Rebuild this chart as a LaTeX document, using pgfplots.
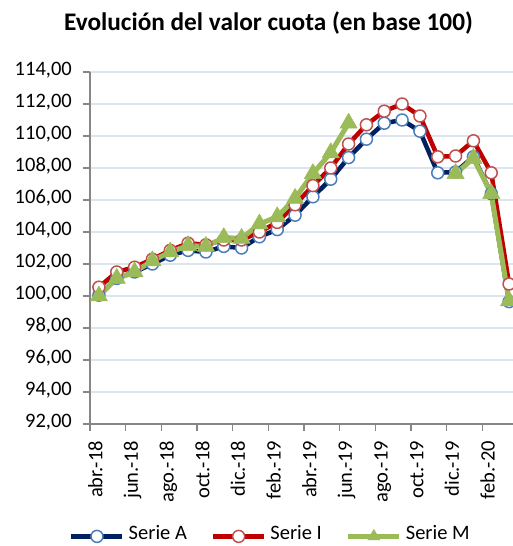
\documentclass[border=0pt]{standalone}
\usepackage{fontspec}
\setmainfont{Carlito}
\usepackage{pgfplots}
\usepackage{pgfplotstable}
\pgfplotsset{compat=1.18}
\definecolor{navyA}{RGB}{0,32,96}
\definecolor{blueedge}{RGB}{74,126,187}
\definecolor{redI}{RGB}{192,0,0}
\definecolor{rededge}{RGB}{192,80,77}
\definecolor{greenM}{RGB}{155,187,89}
\definecolor{gridc}{RGB}{220,228,240}
\definecolor{axisc}{RGB}{134,134,134}

\pgfplotstableread{
i A I M
0 100.05 100.55 100.00
1 101.10 101.50 101.10
2 101.50 101.80 101.50
3 102.00 102.30 102.20
4 102.55 102.85 102.75
5 102.85 103.30 103.15
6 102.75 103.20 103.10
7 103.10 103.50 103.65
8 103.00 103.50 103.60
9 103.70 104.00 104.50
10 104.15 104.60 104.95
11 105.05 105.70 106.10
12 106.20 106.90 107.65
13 107.30 108.00 108.95
14 108.65 109.50 110.80
15 109.80 110.70 nan
16 110.80 111.55 nan
17 111.00 112.00 nan
18 110.30 111.25 nan
19 107.70 108.70 nan
20 107.75 108.75 107.65
21 108.70 109.70 108.60
22 106.40 107.70 106.40
23 99.65 100.75 99.70
}\datatable

\begin{document}
\begin{tikzpicture}
\useasboundingbox (0bp,0bp) rectangle (513bp,546bp);
\node[font=\bfseries\fontsize{25.3bp}{30bp}\selectfont, anchor=base] at (268.5bp,515bp) {Evolución del valor cuota (en base 100)};
\begin{axis}[
  at={(90bp,122bp)}, anchor=south west,
  scale only axis, width=428bp, height=352bp,
  xmin=-0.5, xmax=23.5, ymin=92, ymax=114,
  clip=false,
  unbounded coords=jump,
  axis x line*=bottom, axis y line*=left,
  axis line style={draw=axisc, line width=1.3bp, -},
  ytick={92,94,...,114},
  xtick={0,2,...,22},
  xticklabels={abr.-18,jun.-18,ago.-18,oct.-18,dic.-18,feb.-19,abr.-19,jun.-19,ago.-19,oct.-19,dic.-19,feb.-20},
  minor xtick={-0.5,1.5,...,23.5},
  tick align=outside,
  major tick length=7bp, minor tick length=7bp,
  tick style={draw=axisc, line width=1.3bp},
  major x tick style={draw=none},
  ymajorgrids,
  major grid style={draw=gridc, line width=1.3bp},
  /pgf/number format/.cd, fixed, fixed zerofill, precision=2, use comma, 1000 sep={}, assume math mode=true,
  /pgfplots/.cd,
  tick label style={font=\fontsize{20.5bp}{24bp}\selectfont},
  yticklabel style={anchor=east, inner sep=0pt, text height=0.95em, text depth=0.27em, xshift=-11bp},
  xticklabel style={rotate=90, anchor=east, inner ysep=0pt, inner xsep=10bp, text height=0.95em, text depth=0.27em},
  legend columns=3,
  legend style={draw=none, fill=none, at={(axis description cs:-0.049,-0.318)}, anchor=west,
    font=\fontsize{20.5bp}{24bp}\selectfont, inner sep=0pt,
    nodes={inner xsep=0pt, inner ysep=0pt, text height=0.95em, text depth=0.27em},
    /tikz/every even column/.append style={column sep=24bp},
    /tikz/every odd column/.append style={column sep=4bp}},
  legend image code/.code={\draw[#1, mark repeat=2, mark phase=2] plot coordinates {(0bp,0bp) (25.5bp,0bp) (51bp,0bp)};},
]
\addplot[navyA, line width=4.5bp, line join=round, mark=*, mark size=6bp,
  mark options={fill=white, draw=blueedge, line width=1.5bp, solid}]
  table[x=i, y=A] {\datatable};
\addlegendentry{Serie A}
\addplot[redI, line width=4.5bp, line join=round, mark=*, mark size=6bp,
  mark options={fill=white, draw=rededge, line width=1.5bp, solid}]
  table[x=i, y=I] {\datatable};
\addlegendentry{Serie I}
\addplot[greenM, line width=5bp, line join=round, mark=triangle*, mark size=10bp,
  mark options={fill=greenM, draw=greenM, line width=0.5bp, solid},
  legend image post style={mark size=7bp}]
  table[x=i, y=M] {\datatable};
\addlegendentry{Serie M}
\end{axis}
\end{tikzpicture}
\end{document}
